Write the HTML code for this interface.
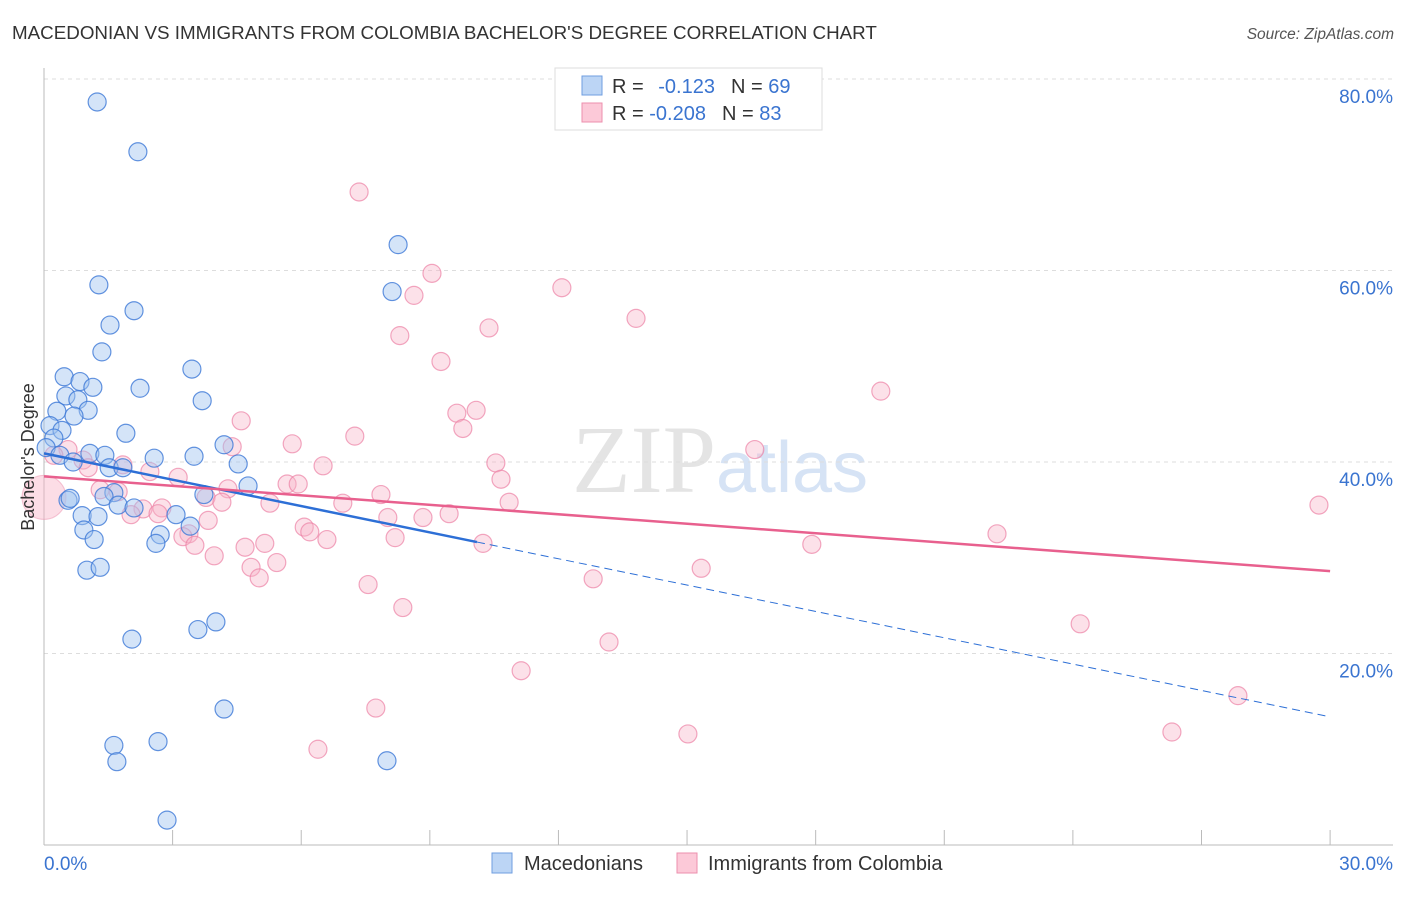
<!DOCTYPE html>
<html><head><meta charset="utf-8"><style>
body{margin:0;background:#fff;font-family:"Liberation Sans",sans-serif;}
svg text{font-family:"Liberation Sans",sans-serif;}
</style></head><body>
<svg id="chart" width="1406" height="892" xmlns="http://www.w3.org/2000/svg">
<text x="12" y="39" font-size="18.8" fill="#333">MACEDONIAN VS IMMIGRANTS FROM COLOMBIA BACHELOR'S DEGREE CORRELATION CHART</text>
<text x="1394" y="39" font-size="15.5" fill="#555" font-style="italic" text-anchor="end">Source: ZipAtlas.com</text>
<text x="720" y="492" font-size="96" fill="#e4e4e4" text-anchor="middle" font-family="Liberation Serif"><tspan font-family="Liberation Serif">ZIP</tspan><tspan fill="#d6e3f5" font-size="72">atlas</tspan></text>
<g id="grid"></g>
<g id="axes"></g>
<g id="pts"></g>
<g id="lines"></g>
<text x="34" y="457" font-size="18" fill="#333" text-anchor="middle" transform="rotate(-90 34 457)">Bachelor's Degree</text>
<g>
<rect x="555" y="68" width="267" height="62" fill="#fff" stroke="#ddd"/>
<rect x="582" y="76" width="20" height="19" fill="#bcd5f5" stroke="#6f9ee0"/>
<rect x="582" y="103" width="20" height="19" fill="#fcc9d8" stroke="#ec8fae"/>
<text x="612" y="93" font-size="20" fill="#333">R = <tspan fill="#3a74d0" dx="9">-0.123</tspan><tspan fill="#333" dx="16">N = </tspan><tspan fill="#3a74d0">69</tspan></text>
<text x="612" y="120" font-size="20" fill="#333">R = <tspan fill="#3a74d0">-0.208</tspan><tspan fill="#333" dx="16">N = </tspan><tspan fill="#3a74d0">83</tspan></text>
</g>
<g>
<rect x="492" y="853" width="20" height="20" fill="#bcd5f5" stroke="#6f9ee0"/>
<text x="524" y="870" font-size="20" fill="#333">Macedonians</text>
<rect x="677" y="853" width="20" height="20" fill="#fcc9d8" stroke="#ec8fae"/>
<text x="708" y="870" font-size="20" fill="#333">Immigrants from Colombia</text>
</g>
</svg>
<script>
const xTicks=[0,30];
const yTicks=[20,40,60,80];
const blueX=[1.24,2.19,8.26,1.28,8.12,2.10,1.54,1.35,3.45,0.47,0.84,2.24,1.14,0.51,0.79,3.69,0.30,1.03,0.70,0.14,0.42,1.91,0.23,4.20,0.05,1.07,1.42,0.37,2.57,3.50,4.53,0.68,1.52,1.84,1.63,1.40,3.73,4.76,0.56,0.61,1.73,2.10,3.08,0.89,1.26,3.41,0.93,2.71,1.17,2.61,1.00,1.31,4.01,3.59,2.05,4.20,1.63,2.66,1.70,8.00,2.87];
const blueY=[77.6,72.4,62.7,58.5,57.8,55.8,54.3,51.5,49.7,48.9,48.4,47.7,47.8,46.9,46.5,46.4,45.3,45.4,44.8,43.8,43.3,43.0,42.5,41.8,41.5,40.9,40.7,40.7,40.4,40.6,39.8,40.0,39.4,39.4,36.8,36.4,36.6,37.5,36.0,36.2,35.5,35.2,34.5,34.4,34.3,33.3,32.9,32.4,31.9,31.5,28.7,29.0,23.3,22.5,21.5,14.2,10.4,10.8,8.7,8.8,2.6];
const pinkX=[7.35,9.05,12.08,8.63,13.81,10.38,8.30,9.26,19.52,10.08,9.63,4.60,9.77,7.25,5.79,4.39,16.58,0.56,0.23,0.91,1.84,10.54,6.51,1.03,2.47,3.13,10.66,4.29,5.67,5.93,1.31,1.73,7.86,3.78,4.15,5.27,6.97,10.85,29.74,2.31,2.75,2.03,2.66,9.45,8.02,8.84,3.83,6.07,6.20,3.38,3.24,6.60,8.19,22.23,5.15,3.52,4.69,10.24,17.91,3.97,5.43,4.83,15.33,5.02,12.81,7.56,8.37,24.17,13.18,11.13,27.85,7.74,15.02,26.31,6.39];
const pinkY=[68.2,59.7,58.2,57.4,55.0,54.0,53.2,50.5,47.4,45.4,45.1,44.3,43.5,42.7,41.9,41.6,41.3,41.3,40.7,40.2,39.7,39.9,39.6,39.4,39.0,38.4,38.2,37.2,37.7,37.7,37.1,36.9,36.6,36.3,35.8,35.7,35.7,35.8,35.5,35.1,35.2,34.5,34.6,34.6,34.2,34.2,33.9,33.2,32.7,32.5,32.2,31.9,32.1,32.5,31.5,31.3,31.1,31.5,31.4,30.2,29.5,29.0,28.9,27.9,27.8,27.2,24.8,23.1,21.2,18.2,15.6,14.3,11.6,11.8,10.0];
const blueTrend=[40.9,-0.917];
const pinkTrend=[38.5,-0.33];
const NS='http://www.w3.org/2000/svg';
const X=v=>44+v*42.87, Y=v=>845-v*9.575;
function mk(t,a,p){const e=document.createElementNS(NS,t);for(const k in a)e.setAttribute(k,a[k]);document.getElementById(p).appendChild(e);return e;}
yTicks.forEach(t=>{
 const l=mk('line',{x1:44,x2:1393,y1:Y(t),y2:Y(t),stroke:'#ddd','stroke-dasharray':'4,4'},'grid');
 
 
 const tx=mk('text',{x:1393,y:Y(t)+24,'font-size':19,fill:'#3a74d0','text-anchor':'end'},'grid');tx.textContent=t.toFixed(1)+'%';
 
 
});
mk('line',{x1:44,x2:44,y1:68,y2:845,stroke:'#bbb'},'axes');
mk('line',{x1:44,x2:1393,y1:845,y2:845,stroke:'#bbb'},'axes');
for(let i=0;i<=10;i++){mk('line',{x1:X(i*3),x2:X(i*3),y1:830,y2:845,stroke:'#bbb'},'axes');}
xTicks.forEach((t,i)=>{const tx=mk('text',{x:i?1393:44,y:870,'font-size':19,fill:'#3a74d0','text-anchor':i?'end':'start'},'axes');tx.textContent=t.toFixed(1)+'%';
 
 });
const big=mk('circle',{cx:X(0),cy:Y(36.3),r:22,fill:'rgba(248,180,200,0.45)',stroke:'rgba(236,143,174,0.5)'},'pts');


pinkX.forEach((x,i)=>{const c=mk('circle',{cx:X(x),cy:Y(pinkY[i]),r:9,fill:'rgba(248,180,200,0.4)',stroke:'rgba(236,130,165,0.7)','stroke-width':1.2},'pts');
 
 });
blueX.forEach((x,i)=>{const c=mk('circle',{cx:X(x),cy:Y(blueY[i]),r:9,fill:'rgba(160,195,240,0.45)',stroke:'rgba(60,120,215,0.8)','stroke-width':1.2},'pts');
 
 });
const bl=v=>blueTrend[0]+blueTrend[1]*v, pl=v=>pinkTrend[0]+pinkTrend[1]*v;
let l1=mk('line',{x1:X(0),y1:Y(bl(0)),x2:X(10.1),y2:Y(bl(10.1)),stroke:'#2d6fd6','stroke-width':2.5},'lines');


let l2=mk('line',{x1:X(10.1),y1:Y(bl(10.1)),x2:X(30),y2:Y(bl(30)),stroke:'#2d6fd6','stroke-width':1,'stroke-dasharray':'8,5'},'lines');


let l3=mk('line',{x1:X(0),y1:Y(pl(0)),x2:X(30),y2:Y(pl(30)),stroke:'#e8608e','stroke-width':2.5},'lines');


</script>
</body></html>
